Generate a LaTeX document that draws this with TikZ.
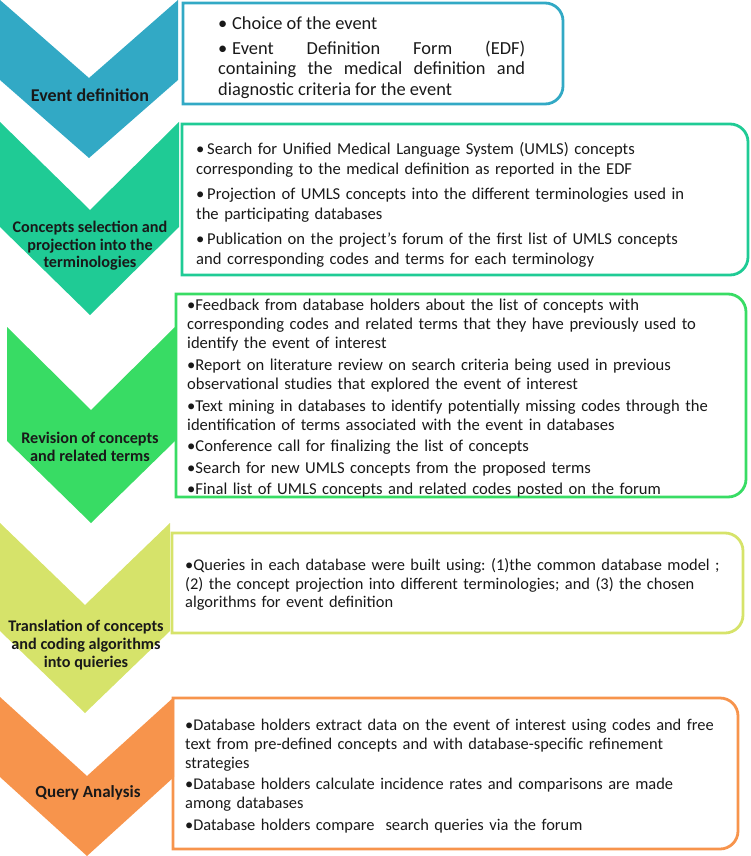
\documentclass[tikz,border=0pt]{standalone}
\usepackage{fontspec}
\setmainfont{Carlito}
\frenchspacing
\definecolor{cblue}{RGB}{50,169,197}
\definecolor{cteal}{RGB}{31,203,149}
\definecolor{cgreen}{RGB}{56,220,100}
\definecolor{cyell}{RGB}{214,227,106}
\definecolor{corange}{RGB}{247,148,76}
\definecolor{ctext}{RGB}{25,25,25}
\newcommand\bul[1]{\par\hangindent=#1\hangafter=1\noindent\makebox[#1][l]{\textbullet}\ignorespaces}
\newcommand\tbul{\par\setbox0\hbox{\textbullet}\hangindent=\wd0\hangafter=1\noindent\box0\ignorespaces}
\newcommand\topstrut{\rule{0pt}{0.9em}}
\newcommand\rbox[5]{\draw[#5,line width=2.8pt] (#1,#2) -- ({#3-18},#2) arc(-90:0:18) -- (#3,{#4-18}) arc(0:90:18) -- (#1,#4) -- cycle;}
\begin{document}
\begin{tikzpicture}[x=1pt,y=-1pt,
  lab/.style={align=center,text=ctext,inner sep=0pt},
  body/.style={anchor=north west,inner sep=0pt,text=ctext}]
\useasboundingbox (0,0) rectangle (750,856);
% chevrons
\fill[cblue] (0,0) -- (89,78) -- (178,0) -- (178,80) -- (89,158) -- (0,80) -- cycle;
\fill[cteal] (0,122) -- (90,210) -- (179,122) -- (179,227) -- (90,315) -- (0,227) -- cycle;
\fill[cgreen] (7,327) -- (91,410) -- (175,327) -- (175,441) -- (91,523) -- (7,441) -- cycle;
\fill[cyell] (0,523) -- (85,605) -- (170,523) -- (170,631) -- (85,713) -- (0,631) -- cycle;
\fill[corange] (0,697) -- (87,776) -- (174,697) -- (174,777) -- (87,856) -- (0,777) -- cycle;
% chevron labels
\node[lab,font=\bfseries\fontsize{18}{20}\selectfont] (l1) at (90,95) {Event definition};
\node[lab,font=\bfseries\fontsize{16.2}{17.6}\selectfont] (l2) at (90,246) {Concepts selection and\\projection into the\\terminologies};
\node[lab,font=\bfseries\fontsize{16.2}{17.6}\selectfont] (l3) at (90,447) {Revision of concepts\\and related terms};
\node[lab,font=\bfseries\fontsize{16.2}{17.6}\selectfont] (l4) at (86,645) {Translation of concepts\\and coding algorithms\\into quieries};
\node[lab,font=\bfseries\fontsize{17}{19}\selectfont] (l5) at (88,793) {Query Analysis};
% boxes
\rbox{183}{3}{563}{104}{cblue}
\rbox{182}{124}{748}{275}{cteal}
\rbox{176}{294}{746}{497}{cgreen}
\rbox{172}{533}{743}{633}{cyell}
\rbox{173}{698}{738}{849}{corange}
% box texts
\node[body,font=\fontsize{18.4}{20.3}\selectfont\setlength{\parskip}{4.6pt},text width=307pt,align=justify] (t1) at (218,4.5) {%
\bul{14pt}\topstrut Choice of the event
\bul{14pt}Event Definition Form (EDF)\linebreak containing the medical definition and\linebreak diagnostic criteria for the event};
\node[body,font=\fontsize{16.6}{20}\selectfont\setlength{\parskip}{4.8pt},text width=545pt,align=left] (t2) at (196,129.5) {%
\bul{11pt}\topstrut Search for Unified Medical Language System (UMLS) concepts\\ corresponding to the medical definition as reported in the EDF
\bul{11pt}Projection of UMLS concepts into the different terminologies used in\\ the participating databases
\bul{11pt}Publication on the project’s forum of the first list of UMLS concepts\\ and corresponding codes and terms for each terminology};
\node[body,font=\fontsize{16.6}{19}\selectfont\setlength{\parskip}{2.6pt},text width=555pt,align=left] (t3) at (187,289) {%
\tbul\topstrut Feedback from database holders about the list of concepts with\\ corresponding codes and related terms that they have previously used to\\ identify the event of interest
\tbul Report on literature review on search criteria being used in previous\\ observational studies that explored the event of interest
\tbul Text mining in databases to identify potentially missing codes through the\\ identification of terms associated with the event in databases
\tbul Conference call for finalizing the list of concepts
\tbul Search for new UMLS concepts from the proposed terms
\tbul Final list of UMLS concepts and related codes posted on the forum};
\node[body,font=\fontsize{16.4}{18.6}\selectfont\setlength{\parskip}{2.6pt},text width=556pt,align=left] (t4) at (185,549) {%
\tbul\topstrut Queries in each database were built using: (1)the common database model ;\\ (2) the concept projection into different terminologies; and (3) the chosen\\ algorithms for event definition};
\node[body,font=\fontsize{16.4}{19}\selectfont\setlength{\parskip}{2.4pt},text width=551pt,align=left] (t5) at (185,708.8) {%
\tbul\topstrut Database holders extract data on the event of interest using codes and free\\ text from pre-defined concepts and with database-specific refinement\\ strategies
\tbul Database holders calculate incidence rates and comparisons are made\\ among databases
\tbul Database holders compare\ \ search queries via the forum};
\end{tikzpicture}
\end{document}
